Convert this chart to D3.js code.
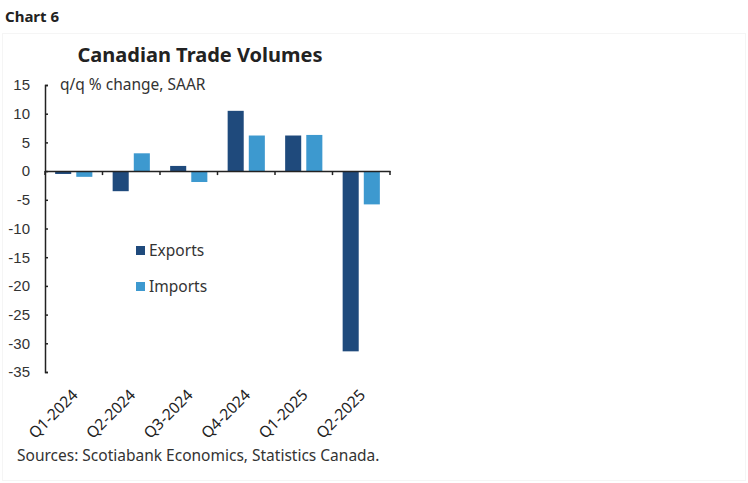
<!DOCTYPE html>
<html lang="en">
<head>
<meta charset="UTF-8">
<title>Canadian Trade Volumes</title>
<script src="https://cdn.jsdelivr.net/npm/d3@7"></script>
<style>
body {
    margin: 0;
    padding: 0;
    background-color: #fff;
    font-family: 'Noto Sans', sans-serif;
}
svg text {
    fill: #222;
}
</style>
</head>
<body>
<div id="chart"></div>

<script>
// Chart data
const quarters = ["Q1-2024", "Q2-2024", "Q3-2024", "Q4-2024", "Q1-2025", "Q2-2025"];
const seriesNames = ["Exports", "Imports"];
const exportsValues = [-0.5, -3.5, 0.9, 10.5, 6.2, -31.4];
const importsValues = [-1.0, 3.1, -1.9, 6.2, 6.3, -5.8];
const yTicks = [15, 10, 5, 0, -5, -10, -15, -20, -25, -30, -35];
const colors = { Exports: "#1f4a7c", Imports: "#3d99cf" };

const width = 748, height = 483;
const labelSize = "15.5px";

const svg = d3.select("#chart").append("svg")
    .attr("width", width).attr("height", height);

// faint frame around the chart area
svg.append("rect")
    .attr("x", 2.5).attr("y", 33.5)
    .attr("width", width - 5).attr("height", height - 36)
    .attr("fill", "none").attr("stroke", "#f5f5f5");

svg.append("text")
    .attr("x", 5).attr("y", 22)
    .style("font-size", "15px").style("font-weight", "bold")
    .text("Chart 6");

svg.append("text")
    .attr("x", 200).attr("y", 62)
    .attr("text-anchor", "middle")
    .style("font-size", "20px").style("font-weight", "bold")
    .text("Canadian Trade Volumes");

// Scales
const x0 = d3.scaleBand().domain(quarters).range([45, 390]);
const x1 = d3.scaleBand().domain(seriesNames).range([0, x0.bandwidth()])
    .paddingInner(0.24).paddingOuter(0.48);
const y = d3.scaleLinear().domain([-35, 15]).range([372, 85]);

// Rows of data for the grouped bars
const rows = quarters.map((q, i) => ({
    quarter: q,
    values: [
        { key: "Exports", value: exportsValues[i] },
        { key: "Imports", value: importsValues[i] }
    ]
}));

svg.append("g")
    .selectAll("g")
    .data(rows)
    .enter().append("g")
    .attr("transform", d => `translate(${x0(d.quarter)},0)`)
    .selectAll("rect")
    .data(d => d.values)
    .enter().append("rect")
    .attr("x", d => x1(d.key))
    .attr("width", x1.bandwidth())
    .attr("y", d => y(Math.max(0, d.value)))
    .attr("height", d => Math.abs(y(d.value) - y(0)))
    .attr("fill", d => colors[d.key]);

// Y axis (ticks point inward)
const yAxis = svg.append("g")
    .attr("transform", "translate(45,0)")
    .call(d3.axisRight(y).tickValues(yTicks).tickSize(3).tickFormat(d3.format("d")));
yAxis.select(".domain").attr("stroke", "#222").attr("stroke-width", 1.5);
yAxis.selectAll(".tick line").attr("stroke", "#222").attr("stroke-width", 1.5);
yAxis.selectAll(".tick text")
    .attr("x", -15).attr("text-anchor", "end")
    .style("font-size", "15px").style("fill", "#333")
    .text(d => d < 0 ? "-" + Math.abs(d) : d);

// X axis along zero line
const xAxis = svg.append("g")
    .attr("transform", `translate(0,${y(0)})`)
    .call(d3.axisBottom(x0).tickSize(0).tickFormat(""));
xAxis.select(".domain").attr("stroke", "#222").attr("stroke-width", 1.5);
const xTickPos = quarters.map(q => x0(q)).concat([x0.range()[1]]);
xAxis.selectAll(".sep")
    .data(xTickPos)
    .enter().append("line")
    .attr("x1", d => d).attr("x2", d => d)
    .attr("y1", 0).attr("y2", 4)
    .attr("stroke", "#222").attr("stroke-width", 1.5);

// Category labels at the bottom, rotated
svg.append("g")
    .selectAll("text")
    .data(quarters)
    .enter().append("text")
    .attr("transform", d => `translate(${x0(d) + x0.bandwidth() / 2 + 5},${396}) rotate(-45)`)
    .attr("text-anchor", "end")
    .style("font-size", labelSize)
    .text(d => d);

// Unit label
svg.append("text")
    .attr("x", 60).attr("y", 90)
    .style("font-size", labelSize).style("fill", "#333")
    .text("q/q % change, SAAR");

// Legend
const legend = svg.append("g")
    .selectAll("g")
    .data(seriesNames)
    .enter().append("g")
    .attr("transform", (d, i) => `translate(136,${246 + i * 36})`);
legend.append("rect")
    .attr("width", 9).attr("height", 9)
    .attr("fill", d => colors[d]);
legend.append("text")
    .attr("x", 13).attr("y", 9.5)
    .style("font-size", labelSize).style("fill", "#333")
    .text(d => d);

svg.append("text")
    .attr("x", 17).attr("y", 461)
    .style("font-size", labelSize).style("fill", "#333")
    .text("Sources: Scotiabank Economics, Statistics Canada.");
</script>
</body>
</html>
